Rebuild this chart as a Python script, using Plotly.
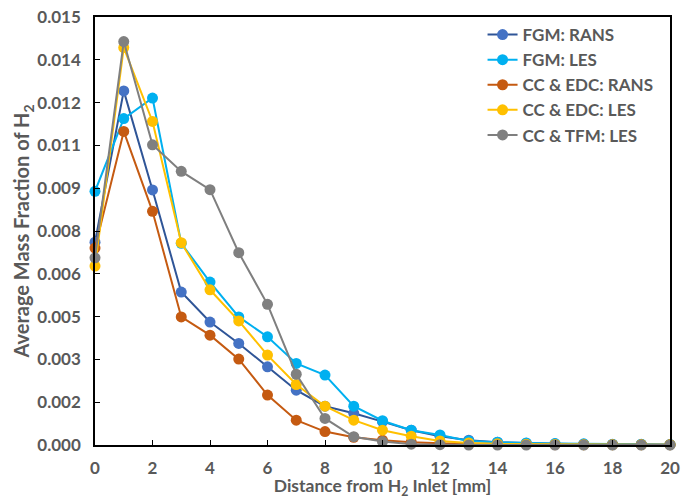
import plotly.graph_objects as go

x_mm = list(range(0, 21))

fgm_rans = [0.00711, 0.01241, 0.00894, 0.00536, 0.00431, 0.00356, 0.00274, 0.00192, 0.00136, 0.00111,
            0.00082, 0.00052, 0.00031, 0.00017, 0.00010, 0.00006, 0.00004, 0.00003, 0.00002, 0.00002, 0.00001]
fgm_les = [0.00889, 0.01144, 0.01216, 0.00707, 0.00571, 0.00449, 0.00379, 0.00286, 0.00245, 0.00136,
           0.00085, 0.00052, 0.00035, 0.00014, 0.00010, 0.00007, 0.00005, 0.00004, 0.00003, 0.00003, 0.00002]
edc_rans = [0.00690, 0.01099, 0.00819, 0.00449, 0.00385, 0.00301, 0.00175, 0.00087, 0.00047, 0.00027,
            0.00017, 0.00010, 0.00006, 0.00004, 0.00003, 0.00002, 0.00001, 0.00001, 0.00001, 0.00001, 0.00001]
edc_les = [0.00627, 0.01393, 0.01134, 0.00709, 0.00544, 0.00435, 0.00315, 0.00212, 0.00136, 0.00087,
           0.00052, 0.00031, 0.00014, 0.00007, 0.00004, 0.00003, 0.00002, 0.00001, 0.00001, 0.00001, 0.00001]
tfm_les = [0.00656, 0.01414, 0.01052, 0.00959, 0.00895, 0.00674, 0.00493, 0.00248, 0.00093, 0.00029,
           0.00012, 0.00003, 0.00001, 0.0, 0.0, 0.0, 0.0, 0.0, 0.0, 0.0, 0.0]

series_names = ["FGM: RANS", "FGM: LES", "CC & EDC: RANS", "CC & EDC: LES", "CC & TFM: LES"]
series_values = [fgm_rans, fgm_les, edc_rans, edc_les, tfm_les]
line_colors = ["#2F5597", "#00B0F0", "#C55A11", "#FFC000", "#7F7F7F"]
marker_colors = ["#4472C4", "#00B0F0", "#C55A11", "#FFC000", "#808080"]

y_tickvals = [0, 0.0015, 0.003, 0.0045, 0.006, 0.0075, 0.009, 0.0105, 0.012, 0.0135, 0.015]
y_ticktext = ["0.000", "0.002", "0.003", "0.005", "0.006", "0.008", "0.009", "0.011", "0.012", "0.014", "0.015"]

FONT = "Lato"
GREY = "#595959"

fig = go.Figure()
for name, vals, lc, mc in zip(series_names, series_values, line_colors, marker_colors):
    fig.add_trace(go.Scatter(
        x=x_mm, y=vals, name=name, mode="lines+markers",
        line=dict(color=lc, width=2),
        marker=dict(color=mc, size=11),
        cliponaxis=False,
    ))

# page body has an 8px default margin, so the figure is 8px smaller and margins shifted
fig.update_layout(
    width=683, height=491,
    margin=dict(l=87, r=21, t=9, b=54, autoexpand=False),
    paper_bgcolor="white", plot_bgcolor="white",
    font=dict(family=FONT, size=16, color=GREY),
    showlegend=True,
    legend=dict(x=0.674, y=1.0, xanchor="left", yanchor="top",
                font=dict(family=FONT, size=17, color=GREY, weight="bold"),
                bgcolor="rgba(0,0,0,0)", itemwidth=30),
)
fig.update_xaxes(
    range=[0, 20], tickvals=list(range(0, 21, 2)),
    showgrid=False, zeroline=False, automargin=False,
    showline=True, linecolor="black", linewidth=1.5, mirror=True,
    ticks="inside", ticklen=5, tickcolor="black", tickwidth=1,
    ticklabelstandoff=7, ticklabeloverflow="allow",
    tickfont=dict(family=FONT, size=17, color=GREY, weight="bold"),
    title=dict(text="Distance from H<sub>2</sub> Inlet [mm]", standoff=6,
               font=dict(family=FONT, size=17.5, color=GREY, weight="bold")),
)
fig.update_yaxes(
    range=[0, 0.015], tickvals=y_tickvals, ticktext=y_ticktext,
    showgrid=False, zeroline=False, automargin=False,
    showline=True, linecolor="black", linewidth=1.5, mirror=True,
    ticks="inside", ticklen=5, tickcolor="black", tickwidth=1,
    ticklabelstandoff=9, ticklabeloverflow="allow",
    tickfont=dict(family=FONT, size=17, color=GREY, weight="bold"),
    title=dict(text="Average Mass Fraction of H<sub>2</sub>", standoff=2,
               font=dict(family=FONT, size=20, color=GREY, weight="bold")),
)

fig.write_html("out.html")
